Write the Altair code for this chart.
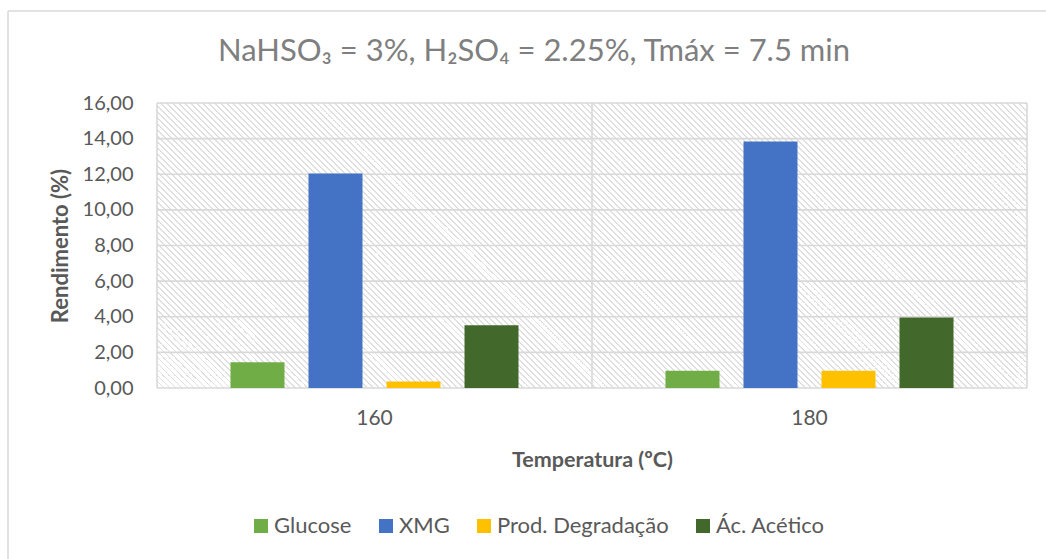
import altair as alt
import pandas as pd

# ---- data ----
temperaturas = ["160", "180"]
produtos = ["Glucose", "XMG", "Prod. Degradação", "Ác. Acético"]
glucose = [1.45, 0.97]
xmg = [12.04, 13.84]
prod_degradacao = [0.37, 0.97]
ac_acetico = [3.52, 3.96]
cores = ["#70ad47", "#4472c4", "#ffc000", "#43682b"]
y_ticks = [0, 2, 4, 6, 8, 10, 12, 14, 16]

titulo = "NaHSO₃ = 3%, H₂SO₄ = 2.25%, Tmáx = 7.5 min"

W, H = 870, 285
PAD_L, PAD_T = 157, 103
CANVAS_W, CANVAS_H = 1046, 559

rows = []
for serie, vals in zip(produtos, [glucose, xmg, prod_degradacao, ac_acetico]):
    for t, v in zip(temperaturas, vals):
        rows.append({"Temperatura": t, "Produto": serie, "Rendimento": v})
df = pd.DataFrame(rows)
grid_df = pd.DataFrame({"Rendimento": y_ticks})
one = pd.DataFrame({"k": [0]})

# ---- diagonal hatch background built as a striped linear gradient ----
period = 6.0
stripe = 1.8
span = W + H
stops = []
d = -H
while d < W:
    a = (d + H) / span
    b = min((d + H + stripe) / span, 1.0)
    stops += [
        alt.GradientStop(offset=a, color="#ffffff"),
        alt.GradientStop(offset=a, color="#e0e0e0"),
        alt.GradientStop(offset=b, color="#e0e0e0"),
        alt.GradientStop(offset=b, color="#ffffff"),
    ]
    d += period
r = H / W
s = (1 + r) / (1 + r * r)
hatch_fill = alt.LinearGradient(
    gradient="linear", stops=stops, x1=0, y1=1, x2=s, y2=1 - s * r
)

hatch = alt.Chart(one).mark_rect(fill=hatch_fill, strokeWidth=0).encode(
    x=alt.value(0), x2=alt.value(W), y=alt.value(0), y2=alt.value(H)
)

label_color = "#595959"
FONT = "Lato"

y_scale = alt.Scale(domain=[0, 16], nice=False)
y_axis = alt.Axis(
    values=y_ticks,
    labelExpr="replace(format(datum.value, '.2f'), '.', ',')",
    labelFont=FONT, labelFontSize=20, labelColor=label_color,
    labelPadding=24, ticks=False, tickSize=0, domain=False, grid=False,
    title="Rendimento (%)", titleFont=FONT, titleFontSize=22,
    titleFontWeight="bold", titleColor=label_color,
    titleX=-97, titleY=H / 2, titleAngle=270,
    titleAlign="center", titleBaseline="middle",
)

grid_color = "#d9d9d9"
hgrid = alt.Chart(grid_df).mark_rule(color=grid_color, strokeWidth=1.6).encode(
    y=alt.Y("Rendimento:Q", axis=y_axis, scale=y_scale)
)

def vline(px):
    return alt.Chart(one).mark_rule(color=grid_color, strokeWidth=1.6).encode(
        x=alt.value(px), y=alt.value(0), y2=alt.value(H)
    )

border_left = alt.Chart(one).mark_rule(color="#d9d9d9", strokeWidth=1.5).encode(
    x=alt.value(8 - PAD_L), y=alt.value(11 - PAD_T), y2=alt.value(CANVAS_H - PAD_T)
)
border_top = alt.Chart(one).mark_rule(color="#d9d9d9", strokeWidth=1.5).encode(
    x=alt.value(8 - PAD_L), x2=alt.value(CANVAS_W - PAD_L), y=alt.value(11 - PAD_T)
)

bars = alt.Chart(df).mark_bar(strokeWidth=0).encode(
    x=alt.X(
        "Temperatura:N",
        sort=temperaturas,
        scale=alt.Scale(paddingInner=0, paddingOuter=0),
        axis=alt.Axis(
            labelAngle=0, labelFont=FONT, labelFontSize=21, labelColor=label_color,
            labelPadding=19, ticks=False, tickSize=0, domain=False, grid=False,
            title="Temperatura (ºC)", titleFont=FONT, titleFontSize=21.5,
            titleFontWeight="bold", titleColor=label_color,
            titleY=72, titleBaseline="middle",
        ),
    ),
    xOffset=alt.XOffset(
        "Produto:N", sort=produtos,
        scale=alt.Scale(domain=produtos, paddingInner=0.3077, paddingOuter=0.942),
    ),
    y=alt.Y("Rendimento:Q", scale=y_scale, axis=y_axis),
    color=alt.Color(
        "Produto:N",
        sort=produtos,
        scale=alt.Scale(domain=produtos, range=cores),
        legend=alt.Legend(
            title=None, orient="none", legendX=93, legendY=412,
            direction="horizontal", columns=4, symbolType="square",
            symbolSize=196, symbolStrokeWidth=0, symbolOpacity=1,
            labelFont=FONT, labelFontSize=22, labelColor=label_color,
            labelLimit=400, columnPadding=23, labelOffset=2,
        ),
    ),
)

chart = alt.layer(
    hatch, hgrid, vline(0), vline(W / 2), vline(W), bars, border_left, border_top
).properties(
    width=W,
    height=H,
    title=alt.TitleParams(
        text=titulo, font=FONT, fontSize=31, fontWeight="normal",
        color="#7f7f7f", anchor="middle", dx=-58, baseline="alphabetic",
        offset=0, dy=82,
    ),
    autosize=alt.AutoSizeParams(type="none"),
    padding={"left": PAD_L, "top": PAD_T, "right": CANVAS_W - PAD_L - W,
             "bottom": CANVAS_H - PAD_T - H},
    background="white",
).configure_view(stroke=None)

chart.save("out.html", embed_options={"renderer": "svg", "actions": False})
